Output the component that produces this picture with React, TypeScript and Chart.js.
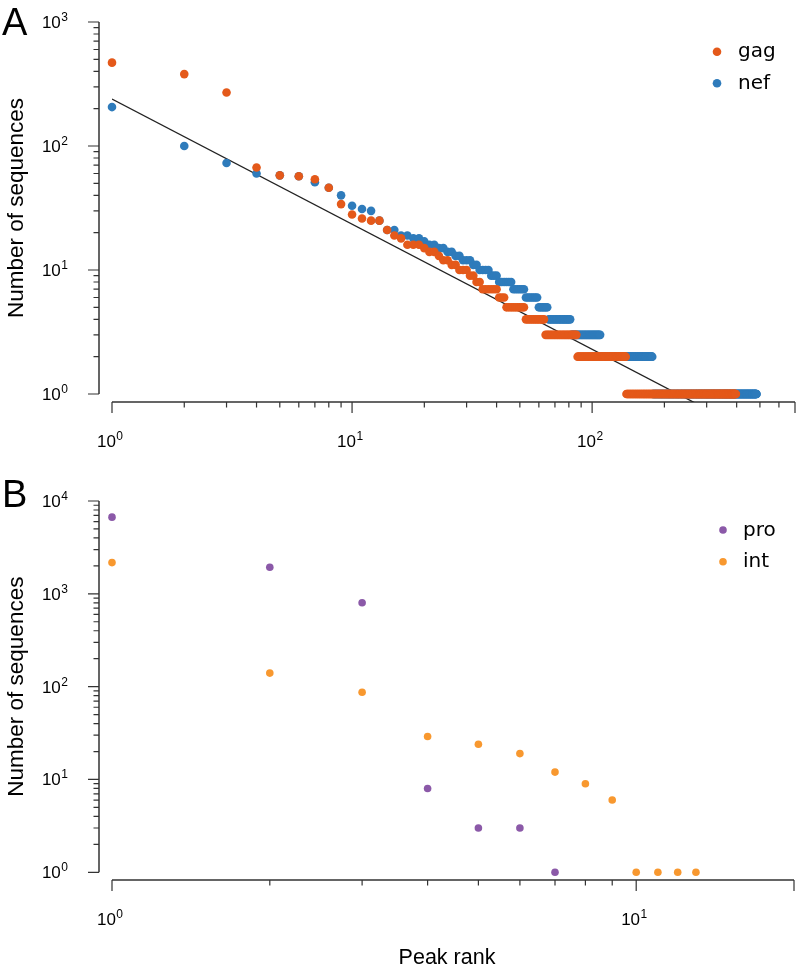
import React, { useEffect, useRef } from 'react';
import { Chart, registerables } from 'chart.js';

Chart.register(...registerables);

// ---------------- Panel A: gag / nef (rank-frequency, run-length in rank order) ----------------
// count value, and how many consecutive peak ranks share that count
const gagCount = [470, 380, 270, 67, 58, 57, 54, 46, 34, 28, 26, 25, 21, 19, 18, 16, 15, 14, 13, 12, 11, 10, 9, 8, 7, 6, 5, 4, 3, 2, 1];
const gagRun = [1, 1, 1, 1, 1, 1, 1, 1, 1, 1, 1, 2, 1, 1, 1, 3, 1, 2, 1, 2, 2, 3, 2, 2, 6, 3, 9, 11, 23, 52, 259];
const nefCount = [206, 100, 73, 60, 58, 57, 51, 46, 40, 33, 31, 30, 25, 21, 19, 18, 17, 16, 15, 14, 13, 12, 11, 10, 9, 8, 7, 6, 5, 4, 3, 2, 1];
const nefRun = [1, 1, 1, 1, 1, 1, 1, 1, 1, 1, 1, 1, 1, 2, 2, 2, 1, 2, 2, 2, 2, 3, 2, 4, 3, 6, 6, 7, 6, 16, 27, 70, 306];
// power-law fit line end points
const fitRank = [1, 300];
const fitSeqs = [239, 0.757];

// ---------------- Panel B: pro / int (counts at ranks 1, 2, 3, ...) ----------------
const proCount = [6700, 1930, 800, 8, 3, 3, 1];
const intCount = [2170, 140, 87, 29, 24, 19, 12, 9, 6, 1, 1, 1, 1];

// ---------------- Tick values ----------------
const aXTicks = [1, 2, 3, 4, 5, 6, 7, 8, 9, 10, 20, 30, 40, 50, 60, 70, 80, 90, 100, 200, 300, 400, 500, 600, 700];
const aYTicks = [1, 2, 3, 4, 5, 6, 7, 8, 9, 10, 20, 30, 40, 50, 60, 70, 80, 90, 100, 200, 300, 400, 500, 600, 700, 800, 900, 1000];
const bXTicks = [1, 2, 3, 4, 5, 6, 7, 8, 9, 10, 20];
const bYTicks = [1, 2, 3, 4, 5, 6, 7, 8, 9, 10, 20, 30, 40, 50, 60, 70, 80, 90, 100, 200, 300, 400, 500, 600, 700, 800, 900,
  1000, 2000, 3000, 4000, 5000, 6000, 7000, 8000, 9000, 10000];

const yTitle = 'Number of sequences';
const xTitle = 'Peak rank';

const COLORS = { gag: '#e4591a', nef: '#2e7bbb', pro: '#8b59a8', int: '#f8982f', fit: '#222222' };
const FONT_SANS = '"Liberation Sans", Arial, Helvetica, sans-serif';
const FONT_LEGEND = '"DejaVu Sans", Verdana, sans-serif';
const AXIS_COLOR = '#333333';

const isDecade = (v: number) => {
  const e = Math.round(Math.log10(v));
  return Math.abs(v - Math.pow(10, e)) < 1e-6 * v;
};

function runsToPoints(counts: number[], runs: number[]) {
  const pts: { x: number; y: number }[] = [];
  let rank = 1;
  counts.forEach((c, i) => {
    for (let k = 0; k < runs[i]; k++) {
      pts.push({ x: rank, y: c });
      rank++;
    }
  });
  return pts;
}
const ranksToPoints = (counts: number[]) => counts.map((c, i) => ({ x: i + 1, y: c }));

// "10" with a raised exponent
function drawPower(ctx: CanvasRenderingContext2D, v: number, x: number, baseline: number, align: 'right' | 'center') {
  const e = String(Math.round(Math.log10(v)));
  ctx.font = `17px ${FONT_SANS}`;
  const w1 = ctx.measureText('10').width;
  ctx.font = `12px ${FONT_SANS}`;
  const w2 = ctx.measureText(e).width;
  const total = w1 + 0.5 + w2;
  const left = align === 'right' ? x - total : x - total / 2;
  ctx.textAlign = 'left';
  ctx.textBaseline = 'alphabetic';
  ctx.font = `17px ${FONT_SANS}`;
  ctx.fillText('10', left, baseline);
  ctx.font = `12px ${FONT_SANS}`;
  ctx.fillText(e, left + w1 + 0.5, baseline - 7);
}

function axesPlugin(xTicks: number[], yTicks: number[]) {
  return {
    id: 'detachedAxes',
    beforeDatasetsDraw(chart: any) {
      const { ctx, chartArea } = chart;
      const xs = chart.scales.x;
      const ys = chart.scales.y;
      const axisY = chartArea.bottom;
      const axisX = chartArea.left - 13;
      ctx.save();
      ctx.strokeStyle = AXIS_COLOR;
      ctx.lineWidth = 1.5;
      ctx.beginPath();
      ctx.moveTo(xs.getPixelForValue(xTicks[0]), axisY);
      ctx.lineTo(xs.getPixelForValue(xTicks[xTicks.length - 1]), axisY);
      ctx.moveTo(axisX, ys.getPixelForValue(yTicks[0]));
      ctx.lineTo(axisX, ys.getPixelForValue(yTicks[yTicks.length - 1]));
      ctx.stroke();
      ctx.lineWidth = 1.2;
      ctx.beginPath();
      xTicks.forEach((v, i) => {
        const long = isDecade(v) || i === xTicks.length - 1;
        const px = xs.getPixelForValue(v);
        ctx.moveTo(px, axisY);
        ctx.lineTo(px, axisY + (long ? 11 : 5.5));
      });
      yTicks.forEach((v, i) => {
        const long = isDecade(v) || i === yTicks.length - 1;
        const py = ys.getPixelForValue(v);
        ctx.moveTo(axisX, py);
        ctx.lineTo(axisX - (long ? 11 : 5.5), py);
      });
      ctx.stroke();
      // tick labels at the decades
      ctx.fillStyle = '#000';
      xTicks.filter(isDecade).forEach((v) => {
        drawPower(ctx, v, xs.getPixelForValue(v) - 2, axisY + 45, 'center');
      });
      yTicks.filter(isDecade).forEach((v) => {
        drawPower(ctx, v, axisX - 31, ys.getPixelForValue(v) + 6, 'right');
      });
      ctx.restore();
    },
  };
}

type Annot = {
  letter: string;
  letterX: number;
  letterY: number;
  yTicks: number[];
  xTitleText?: string;
  xTitleX?: number;
  xTitleY?: number;
  legendDotX: number;
  legendTextX: number;
  legendY0: number;
  legendDy: number;
  radius: number;
};

function annotPlugin(spec: Annot) {
  return {
    id: 'annotations',
    afterDraw(chart: any) {
      const { ctx } = chart;
      const ys = chart.scales.y;
      ctx.save();
      ctx.fillStyle = '#000';
      ctx.textBaseline = 'alphabetic';
      // panel letter
      ctx.font = `38px ${FONT_SANS}`;
      ctx.textAlign = 'left';
      ctx.fillText(spec.letter, spec.letterX, spec.letterY);
      // x title
      if (spec.xTitleText) {
        ctx.font = `21.5px ${FONT_SANS}`;
        ctx.textAlign = 'center';
        ctx.fillText(spec.xTitleText, spec.xTitleX, spec.xTitleY);
      }
      // y title
      const cy = (ys.getPixelForValue(spec.yTicks[0]) + ys.getPixelForValue(spec.yTicks[spec.yTicks.length - 1])) / 2;
      ctx.save();
      ctx.translate(23, cy);
      ctx.rotate(-Math.PI / 2);
      ctx.font = `22.5px ${FONT_SANS}`;
      ctx.textAlign = 'center';
      ctx.fillText(yTitle, 0, 0);
      ctx.restore();
      // legend
      let row = 0;
      chart.data.datasets.forEach((ds: any) => {
        if (!ds.label) return;
        const y = spec.legendY0 + row * spec.legendDy;
        ctx.fillStyle = ds.backgroundColor;
        ctx.beginPath();
        ctx.arc(spec.legendDotX, y, spec.radius, 0, Math.PI * 2);
        ctx.fill();
        ctx.fillStyle = '#000';
        ctx.font = `20px ${FONT_LEGEND}`;
        ctx.textAlign = 'left';
        ctx.fillText(ds.label, spec.legendTextX, y + 5.5);
        row++;
      });
      ctx.restore();
    },
  };
}

function logScale(min: number, max: number, ticks: number[], size: number, isX: boolean) {
  return {
    type: 'logarithmic',
    min,
    max,
    grid: { display: false, drawTicks: false },
    border: { display: false },
    afterBuildTicks: (s: any) => {
      s.ticks = ticks.map((v) => ({ value: v }));
    },
    afterFit: (s: any) => {
      if (isX) s.height = size;
      else s.width = size;
      s.paddingTop = 0;
      s.paddingBottom = 0;
      s.paddingLeft = 0;
      s.paddingRight = 0;
    },
    ticks: { display: false, autoSkip: false, maxRotation: 0, minRotation: 0, padding: 0 },
  };
}

function configA() {
  return {
    type: 'scatter',
    data: {
      datasets: [
        { label: 'gag', data: runsToPoints(gagCount, gagRun), backgroundColor: COLORS.gag, pointRadius: 4.3, pointBorderWidth: 0, clip: false },
        { label: 'nef', data: runsToPoints(nefCount, nefRun), backgroundColor: COLORS.nef, pointRadius: 4.3, pointBorderWidth: 0, clip: false },
        {
          label: '',
          data: fitRank.map((r, i) => ({ x: r, y: fitSeqs[i] })),
          showLine: true,
          borderColor: COLORS.fit,
          borderWidth: 1.3,
          pointRadius: 0,
          backgroundColor: COLORS.fit,
          clip: 0,
        },
      ],
    },
    options: {
      responsive: false,
      maintainAspectRatio: false,
      animation: false,
      devicePixelRatio: 1,
      events: [],
      layout: { autoPadding: false, padding: { top: 22, right: 1, left: 0, bottom: 0 } },
      plugins: { legend: { display: false }, tooltip: { enabled: false } },
      scales: {
        x: logScale(1, 700, aXTicks, 68, true),
        y: logScale(Math.pow(10, -8 / 124), 1000, aYTicks, 112, false),
      },
    },
    plugins: [
      axesPlugin(aXTicks, aYTicks),
      annotPlugin({
        letter: 'A', letterX: 2, letterY: 35, yTicks: aYTicks,
        legendDotX: 717, legendTextX: 738, legendY0: 51.7, legendDy: 31.6, radius: 4.3,
      }),
    ],
  };
}

function configB() {
  return {
    type: 'scatter',
    data: {
      datasets: [
        { label: 'pro', data: ranksToPoints(proCount), backgroundColor: COLORS.pro, pointRadius: 3.8, pointBorderWidth: 0, clip: false },
        { label: 'int', data: ranksToPoints(intCount), backgroundColor: COLORS.int, pointRadius: 3.8, pointBorderWidth: 0, clip: false },
      ],
    },
    options: {
      responsive: false,
      maintainAspectRatio: false,
      animation: false,
      devicePixelRatio: 1,
      events: [],
      layout: { autoPadding: false, padding: { top: 31, right: 2, left: 0, bottom: 0 } },
      plugins: { legend: { display: false }, tooltip: { enabled: false } },
      scales: {
        x: logScale(1, 20, bXTicks, 85, true),
        y: logScale(Math.pow(10, -0.083), 10000, bYTicks, 112, false),
      },
    },
    plugins: [
      axesPlugin(bXTicks, bYTicks),
      annotPlugin({
        letter: 'B', letterX: 2, letterY: 37, yTicks: bYTicks,
        xTitleText: xTitle, xTitleX: 447, xTitleY: 494,
        legendDotX: 723, legendTextX: 743, legendY0: 60, legendDy: 31.7, radius: 3.8,
      }),
    ],
  };
}

export default function App() {
  const refA = useRef<HTMLCanvasElement | null>(null);
  const refB = useRef<HTMLCanvasElement | null>(null);

  useEffect(() => {
    const a = new Chart(refA.current as HTMLCanvasElement, configA() as any);
    const b = new Chart(refB.current as HTMLCanvasElement, configB() as any);
    return () => {
      a.destroy();
      b.destroy();
    };
  }, []);

  return (
    <div style={{ position: 'absolute', left: 0, top: 0, width: 796, height: 965, background: '#fff', overflow: 'hidden' }}>
      <canvas ref={refA} width={796} height={470} style={{ position: 'absolute', left: 0, top: 0, width: 796, height: 470 }} />
      <canvas ref={refB} width={796} height={495} style={{ position: 'absolute', left: 0, top: 470, width: 796, height: 495 }} />
    </div>
  );
}
